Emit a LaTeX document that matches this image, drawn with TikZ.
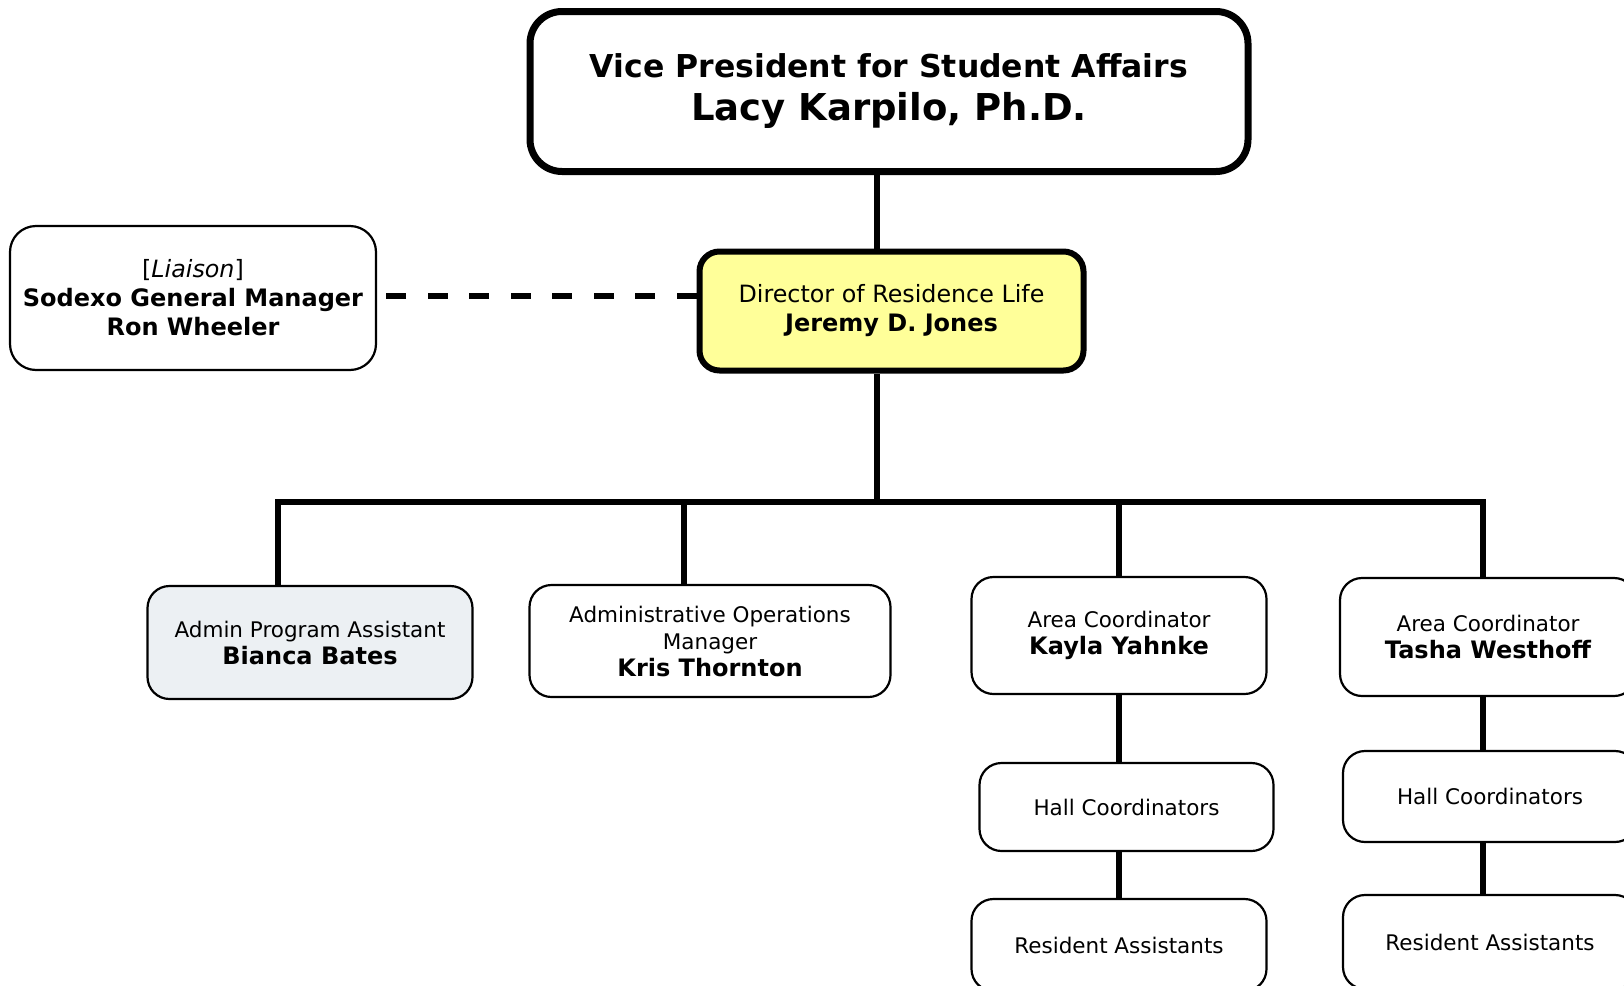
\documentclass[tikz,border=0pt]{standalone}
\usepackage{fontspec}
\setmainfont{DejaVu Sans}
\definecolor{coldirector}{RGB}{255,255,153}
\definecolor{coladmin}{RGB}{236,240,243}
\tikzset{
  post/.style={
    draw,
    line width=2.2pt,
    rounded corners=22pt,
    align=center,
    inner sep=0pt,
    font=\fontsize{21.5}{27}\selectfont
  },
  chief/.style={post, line width=7pt, rounded corners=32pt,
    font=\fontsize{31.5}{43}\selectfont\bfseries},
  director/.style={post, line width=6pt, rounded corners=20pt,
    fill=coldirector, font=\fontsize{23.8}{29}\selectfont},
  liaison/.style={post, rounded corners=26pt,
    font=\fontsize{23.8}{29}\selectfont},
  link/.style={line width=5.5pt},
  liaisonlink/.style={link, dash pattern=on 20pt off 21.5pt}
}
\newcommand{\pname}[1]{{\fontsize{24}{27}\selectfont\bfseries #1}}

\begin{document}
\begin{tikzpicture}[x=1pt,y=-1pt]
  \clip (0,0) rectangle (1624,985);

  % The boxes
  \node[chief, minimum width=718pt, minimum height=160pt] (vp) at (889,91.5)
    {Vice President for Student Affairs\\
     {\fontsize{37}{43}\selectfont Lacy Karpilo, Ph.D.}};
  \node[director, minimum width=384pt, minimum height=119pt] (director)
    at (891.5,311) {Director of Residence Life\\\pname{Jeremy D. Jones}};
  \node[liaison, minimum width=366pt, minimum height=144pt] (liaison)
    at (193,298) {[\textit{Liaison}]\\\pname{Sodexo General Manager}\\
    \pname{Ron Wheeler}};
  \node[post, fill=coladmin, minimum width=325pt, minimum height=113pt]
    (admin) at (310,642.5) {Admin Program Assistant\\\pname{Bianca Bates}};
  \node[post, minimum width=361pt, minimum height=112pt] (ops) at (710,641)
    {Administrative Operations\\Manager\\\pname{Kris Thornton}};
  \node[post, minimum width=295pt, minimum height=117pt] (areaA)
    at (1119,635.5) {Area Coordinator\\\pname{Kayla Yahnke}};
  \node[post, minimum width=294pt, minimum height=88pt] (hallA)
    at (1126.5,807) {Hall Coordinators};
  \node[post, minimum width=295pt, minimum height=92pt] (resA)
    at (1119,945) {Resident Assistants};
  \node[post, minimum width=296pt, minimum height=118pt] (areaB)
    at (1488,637) {Area Coordinator\\\pname{Tasha Westhoff}};
  \node[post, minimum width=294pt, minimum height=91pt] (hallB)
    at (1490,796.5) {Hall Coordinators};
  \node[post, minimum width=294pt, minimum height=94pt] (resB)
    at (1490,942) {Resident Assistants};

  % The trunk and the bus
  \coordinate (trunk) at (877,502);
  \foreach \name/\x in {admin/278, ops/684, areaA/1119, areaB/1483}
    \coordinate (bus-\name) at (\x,502);
  \draw[link] (vp.south -| trunk) -- (director.north -| trunk);
  \draw[link] (director.south -| trunk) -- (trunk);
  \draw[link] (bus-admin |- admin.north) -- (bus-admin) -- (bus-areaB)
    -- (bus-areaB |- areaB.north);
  \foreach \name in {ops, areaA}
    \draw[link] (bus-\name) -- (bus-\name |- \name.north);

  % Down the area columns
  \draw[link] (areaA.south) -- (areaA.south |- hallA.north);
  \draw[link] (hallA.south -| areaA) -- (resA.north);
  \draw[link] (areaB.south -| bus-areaB) -- (hallB.north -| bus-areaB);
  \draw[link] (hallB.south -| bus-areaB) -- (resB.north -| bus-areaB);

  % The liaison
  \draw[liaisonlink] ([yshift=2pt]liaison.east -| director.west)
    -- ([yshift=2pt]liaison.east);
\end{tikzpicture}
\end{document}
